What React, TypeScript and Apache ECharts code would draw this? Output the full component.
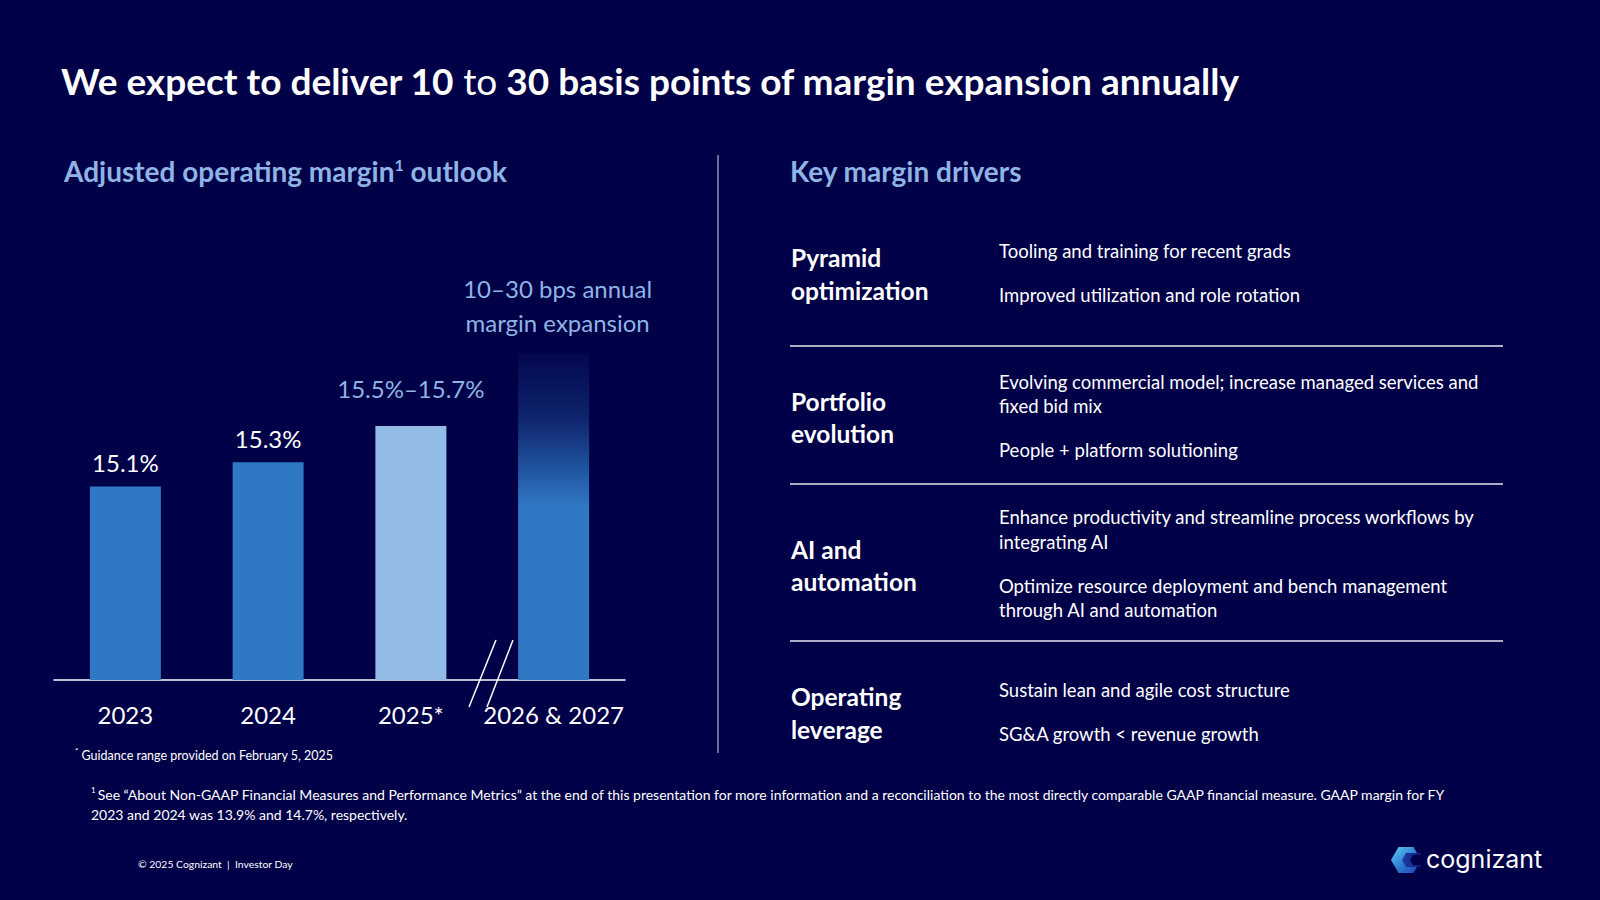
import React, { useEffect, useRef } from "react";
import * as echarts from "echarts";

const categories = ["2023", "2024", "2025*", "2026 & 2027"];
const values = [15.1, 15.3, 15.6, 16.2];
const barLabels = ["15.1%", "15.3%", "15.5%–15.7%", "10–30 bps annual\nmargin expansion"];

const driverTitles = [
  ["Pyramid", "optimization"],
  ["Portfolio", "evolution"],
  ["AI and", "automation"],
  ["Operating", "leverage"],
];
const driverTexts = [
  ["Tooling and training for recent grads", "Improved utilization and role rotation"],
  ["Evolving commercial model; increase managed services and", "fixed bid mix", "People + platform solutioning"],
  ["Enhance productivity and streamline process workflows by", "integrating AI", "Optimize resource deployment and bench management", "through AI and automation"],
  ["Sustain lean and agile cost structure", "SG&A growth < revenue growth"],
];

const BG = "#000048";
const BLUE = "#2F78C4";
const LIGHT = "#8FB4E3";
const FONT = "Lato, 'Open Sans', sans-serif";

function txt(x: number, y: number, text: string, size: number, color: string, weight: any = "normal", align = "left") {
  return {
    type: "text",
    x,
    y,
    silent: true,
    style: {
      text,
      fill: color,
      fontSize: size,
      fontWeight: weight,
      fontFamily: FONT,
      align,
      verticalAlign: "middle",
      textAlign: align,
      textVerticalAlign: "middle",
    },
  };
}

export default function App() {
  const ref = useRef<HTMLDivElement>(null);
  useEffect(() => {
    document.body.style.margin = "0";
    const chart = echarts.init(ref.current!, null, { renderer: "svg" });

    const graphics: any[] = [];
    // Title
    graphics.push({
      type: "text",
      x: 61,
      y: 80,
      style: {
        text: "{b|We expect to deliver 10 }{r|to}{b| 30 basis points of margin expansion annually}",
        fill: "#ffffff",
        fontFamily: FONT,
        verticalAlign: "middle",
        textVerticalAlign: "middle",
        rich: {
          b: { fill: "#ffffff", color: "#ffffff", fontSize: 37, fontWeight: "bold", fontFamily: FONT },
          r: { fill: "#ffffff", color: "#ffffff", fontSize: 37, fontWeight: "normal", fontFamily: FONT },
        },
      },
    });
    // Section headings
    graphics.push({
      type: "text",
      x: 64,
      y: 171,
      style: {
        text: "{h|Adjusted operating margin}{s|1}{h| outlook}",
        fontFamily: FONT,
        verticalAlign: "middle",
        textVerticalAlign: "middle",
        rich: {
          h: { fill: LIGHT, color: LIGHT, fontSize: 28, fontWeight: "bold", fontFamily: FONT },
          s: { fill: LIGHT, color: LIGHT, fontSize: 16, fontWeight: "bold", fontFamily: FONT, verticalAlign: "top", padding: [0, 0, 14, 0] },
        },
      },
    });
    graphics.push(txt(790, 171, "Key margin drivers", 28, LIGHT, "bold"));

    // vertical divider
    graphics.push({ type: "line", shape: { x1: 718, y1: 155, x2: 718, y2: 753 }, style: { stroke: "#8a8fb8", lineWidth: 1.5 } });

    // break marks
    graphics.push({ type: "line", shape: { x1: 496, y1: 640, x2: 469, y2: 707 }, style: { stroke: "#ffffff", lineWidth: 1.5 } });
    graphics.push({ type: "line", shape: { x1: 513, y1: 640, x2: 487, y2: 707 }, style: { stroke: "#ffffff", lineWidth: 1.5 } });

    // footnote under chart
    graphics.push({
      type: "text",
      x: 75,
      y: 755,
      style: {
        text: "{s|*}{t| Guidance range provided on February 5, 2025}",
        verticalAlign: "middle",
        textVerticalAlign: "middle",
        rich: {
          s: { fill: "#ffffff", fontSize: 8, fontFamily: FONT, padding: [0, 0, 8, 0] },
          t: { fill: "#ffffff", fontSize: 12.5, fontFamily: FONT },
        },
      },
    });

    // right panel
    const titleY = [[257, 290], [401, 433], [549, 581], [696, 729]];
    const textY = [[251, 295], [382, 406, 450], [517, 542, 586, 610], [690, 734]];
    driverTitles.forEach((lines, i) => {
      lines.forEach((l, j) => graphics.push(txt(791, titleY[i][j], l, 24.5, "#ffffff", "bold")));
    });
    driverTexts.forEach((lines, i) => {
      lines.forEach((l, j) => graphics.push(txt(999, textY[i][j], l, 18.5, "#ffffff")));
    });
    [346, 484, 641].forEach((y) =>
      graphics.push({ type: "line", shape: { x1: 790, y1: y, x2: 1503, y2: y }, style: { stroke: "#e6e6ee", lineWidth: 1.5 } })
    );

    // bottom footnote
    graphics.push({
      type: "text",
      x: 91,
      y: 794,
      style: {
        text: "{s|1 }{t|See “About Non-GAAP Financial Measures and Performance Metrics” at the end of this presentation for more information and a reconciliation to the most directly comparable GAAP financial measure. GAAP margin for FY}",
        verticalAlign: "middle",
        textVerticalAlign: "middle",
        rich: {
          s: { fill: "#ffffff", fontSize: 8, fontFamily: FONT, padding: [0, 0, 8, 0] },
          t: { fill: "#ffffff", fontSize: 14, fontFamily: FONT },
        },
      },
    });
    graphics.push(txt(91, 814, "2023 and 2024 was 13.9% and 14.7%, respectively.", 14, "#ffffff"));
    graphics.push(txt(138, 864, "© 2025 Cognizant  |  Investor Day", 10.4, "#ffffff"));

    // logo
    graphics.push({
      type: "polygon",
      shape: { points: [[1391, 860], [1398.5, 847], [1413.5, 847], [1421, 860], [1413.5, 873], [1398.5, 873]] },
      style: {
        fill: new echarts.graphic.LinearGradient(0, 0, 1, 1, [
          { offset: 0, color: "#5fd0f5" },
          { offset: 0.5, color: "#2f7fd6" },
          { offset: 1, color: "#1f3aa8" },
        ]),
      },
    });
    graphics.push({
      type: "polygon",
      shape: { points: [[1402, 860], [1406, 853], [1421, 853], [1421, 867], [1406, 867]] },
      style: {
        fill: new echarts.graphic.LinearGradient(0, 0, 1, 0, [
          { offset: 0, color: "#1e3fa6" },
          { offset: 1, color: "#0c1a78" },
        ]),
      },
    });
    graphics.push({
      type: "polygon",
      shape: { points: [[1410, 860], [1413, 855], [1422, 855], [1422, 865], [1413, 865]] },
      style: { fill: BG },
    });
    graphics.push({
      type: "text",
      x: 1426,
      y: 859,
      style: {
        text: "cognizant",
        fill: "#ffffff",
        fontSize: 25,
        fontFamily: "Inter, 'Open Sans', sans-serif",
        fontWeight: 400,
        verticalAlign: "middle",
        textVerticalAlign: "middle",
      },
    });

    const labelStyles = [
      { color: "#ffffff", distance: 7, offset: [0, 0] },
      { color: "#ffffff", distance: 7, offset: [0, 0] },
      { color: LIGHT, distance: 20, offset: [0, 0] },
      { color: LIGHT, distance: 14, offset: [4, 0] },
    ];

    const data = values.map((v, i) => {
      const item: any = {
        value: v,
        label: {
          show: true,
          position: "top",
          distance: labelStyles[i].distance,
          offset: labelStyles[i].offset,
          color: labelStyles[i].color,
          fontSize: 24,
          fontFamily: FONT,
          lineHeight: 34,
          formatter: barLabels[i],
        },
      };
      if (i === 2) item.itemStyle = { color: "#92BBE6" };
      if (i === 3)
        item.itemStyle = {
          color: new echarts.graphic.LinearGradient(0, 0, 0, 1, [
            { offset: 0, color: "rgba(47,120,196,0.06)" },
            { offset: 0.2, color: "rgba(47,120,196,0.3)" },
            { offset: 0.47, color: BLUE },
            { offset: 1, color: BLUE },
          ]),
        };
      return item;
    });

    chart.setOption({
      animation: false,
      backgroundColor: BG,
      grid: { left: 54, width: 571, top: 256.5, bottom: 220, containLabel: false },
      xAxis: {
        type: "category",
        data: categories,
        axisLine: { show: true, lineStyle: { color: "#ffffff", width: 1.5 } },
        axisTick: { show: false },
        axisLabel: { color: "#ffffff", fontSize: 24, fontFamily: FONT, margin: 22, interval: 0 },
        splitLine: { show: false },
      },
      yAxis: {
        type: "value",
        min: 13.5,
        max: 17,
        show: false,
        splitLine: { show: false },
      },
      series: [
        {
          type: "bar",
          data,
          barWidth: 71,
          itemStyle: { color: BLUE },
        },
      ],
      graphic: graphics,
    });
    return () => chart.dispose();
  }, []);
  return <div ref={ref} style={{ width: 1600, height: 900 }} />;
}
